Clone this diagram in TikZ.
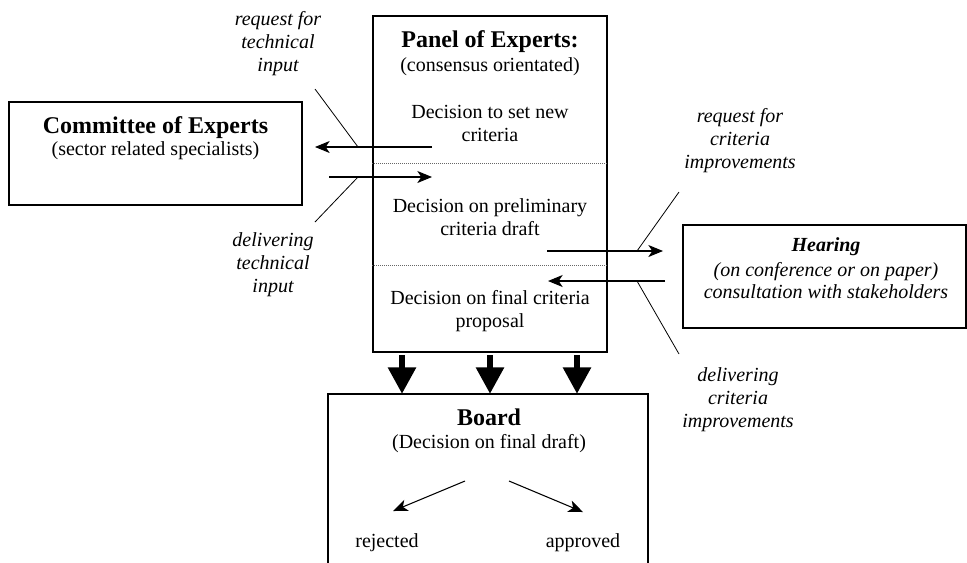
\documentclass[tikz,border=0pt]{standalone}
\usepackage{fontspec}
\setmainfont{Liberation Serif}
\usetikzlibrary{arrows.meta}
\begin{document}
\begin{tikzpicture}[x=0.75pt,y=-0.75pt,
  box/.style={draw, line width=1pt, inner sep=0pt},
  body/.style={font=\fontsize{15}{17.25}\selectfont, align=center, inner sep=0pt, anchor=base},
  title/.style={font=\fontsize{18}{21}\selectfont\bfseries, inner sep=0pt, anchor=base},
  note/.style={font=\fontsize{15}{16.9}\selectfont\itshape, align=center, inner sep=0pt, anchor=base},
  flow/.style={line width=0.8pt, -{Stealth[length=11pt,width=9pt,inset=3pt]}},
  leader/.style={line width=0.6pt},
  bigarrow/.style={line width=5pt, -{Triangle[length=20pt,width=20pt]}},
  separator/.style={densely dotted, line width=0.5pt, black!60}]
\useasboundingbox (0,0) rectangle (967,562);

% boxes
\node[box, minimum width=175.5pt, minimum height=252pt] (panel) at (490,184) {};
\node[box, minimum width=219.75pt, minimum height=77.25pt] (committee) at (155.5,153.5) {};
\node[box, minimum width=212.25pt, minimum height=77.25pt] (hearing) at (824.5,276.5) {};
\node[box, minimum width=240pt, minimum height=154.5pt] (board) at (488,497) {};

% panel stages (multi-line nodes sit on the baseline of their last line)
\draw[separator] (panel.west |- 0,163) -- (panel.east |- 0,163);
\draw[separator] (panel.west |- 0,265) -- (panel.east |- 0,265);

\node[title] (paneltitle) at (490,47) {Panel of Experts:};
\node[body] (panelsub) at (490,71) {(consensus orientated)};
\node[body] (stage1) at (490,141) {Decision to set new\\criteria};
\node[body] (stage2) at (490,235) {Decision on preliminary\\criteria draft};
\node[body] (stage3) at (490,327) {Decision on final criteria\\proposal};

% committee
\node[title] (comtitle) at (155.5,133) {Committee of Experts};
\node[body] (comsub) at (155.5,155) {(sector related specialists)};

% hearing
\node[body, font=\fontsize{15}{16.5}\selectfont\itshape] (heartext) at (826,298)
  {\textbf{Hearing}\\[2pt](on conference or on paper)\\consultation with stakeholders};

% board
\node[title] (boardtitle) at (489,425) {Board};
\node[body] (boardsub) at (489,448) {(Decision on final draft)};
\node[body] (rejected) at (387,547) {rejected};
\node[body] (approved) at (583,547) {approved};
\coordinate (splitL) at (465,481);
\coordinate (splitR) at (509,481);
\coordinate (rejtip) at (393,511);
\coordinate (apptip) at (583,512);
\draw[flow] (splitL) -- (rejtip);
\draw[flow] (splitR) -- (apptip);

% exchange with the committee
\coordinate (reqTechStart) at (432,147);
\coordinate (reqTechEnd) at (315,147);
\coordinate (delTechStart) at (329,177);
\coordinate (delTechEnd) at (432,177);
\draw[flow] (reqTechStart) -- (reqTechEnd);
\draw[flow] (delTechStart) -- (delTechEnd);
\node[note] (reqTech) at (278,71) {request for\\technical\\input};
\node[note] (delTech) at (273,292) {delivering\\technical\\input};
\draw[leader] (358,147) coordinate (reqTechFoot) -- (315,89);
\draw[leader] (358,177) coordinate (delTechFoot) -- (315,222);

% exchange with the hearing
\coordinate (reqCritStart) at (547,251);
\coordinate (reqCritEnd) at (663,251);
\coordinate (delCritStart) at (665,281);
\coordinate (delCritEnd) at (548,281);
\draw[flow] (reqCritStart) -- (reqCritEnd);
\draw[flow] (delCritStart) -- (delCritEnd);
\node[note] (reqCrit) at (740,168) {request for\\criteria\\improvements};
\node[note] (delCrit) at (738,427) {delivering\\criteria\\improvements};
\draw[leader] (637,251) coordinate (reqCritFoot) -- (679,192);
\draw[leader] (637,281) coordinate (delCritFoot) -- (679,354);

% hand-over to the board
\foreach \x/\n in {402/a,490/b,577/c}{
  \draw[bigarrow] (\x,355) coordinate (hand\n) -- (\x,394);
}
\end{tikzpicture}
\end{document}
